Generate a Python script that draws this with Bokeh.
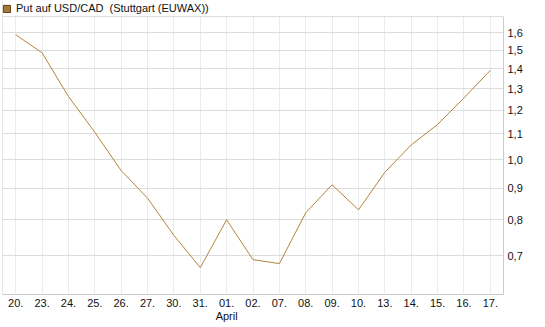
from bokeh.plotting import figure
from bokeh.models import (FixedTicker, CustomJSTickFormatter, LinearAxis, Range1d,
                          Span, Legend, LegendItem, BoxAnnotation)
from bokeh.embed import file_html
from bokeh.resources import INLINE

# ---- data ----
dates = ["20.", "23.", "24.", "25.", "26.", "27.", "30.", "31.", "01.", "02.",
         "07.", "08.", "09.", "10.", "13.", "14.", "15.", "16.", "17."]
values = [1.589, 1.486, 1.264, 1.107, 0.960, 0.867, 0.755, 0.670, 0.800, 0.690,
          0.680, 0.821, 0.911, 0.830, 0.954, 1.056, 1.139, 1.257, 1.392]
y_ticks = [0.7, 0.8, 0.9, 1.0, 1.1, 1.2, 1.3, 1.4, 1.5, 1.6]
month_label = "April"
month_index = 8
legend_text = "Put auf USD/CAD  (Stuttgart (EUWAX))"

LINE = "#B5833C"
FONT = "Liberation Sans"
Y_MIN, Y_PLOT_TOP, Y_CANVAS_TOP = 0.6064, 1.70, 1.804

idx = list(range(len(dates)))

p = figure(width=545, height=327, output_backend="svg", toolbar_location=None,
           y_axis_type="log", y_axis_location="right",
           x_range=Range1d(-0.5, len(dates) - 0.5),
           y_range=Range1d(Y_MIN, Y_CANVAS_TOP),
           min_border_left=2, min_border_right=42, min_border_top=0, min_border_bottom=33)
p.outline_line_color = None
p.background_fill_color = "white"
p.border_fill_color = "white"

p.line(idx, values, line_color=LINE, line_width=1)
# legend swatch renderer (placed outside the visible x range)
sq = p.quad(left=[-6], right=[-5], bottom=[1.0], top=[1.1], fill_color="#A87838",
            line_color="#5a3d18", line_width=1)

# x axis
xa = p.xaxis[0]
xa.ticker = FixedTicker(ticks=idx)
xa.major_label_overrides = {i: d for i, d in enumerate(dates)}
xa.major_tick_out = 0
xa.major_tick_in = 0
xa.minor_tick_out = 0
xa.minor_tick_in = 0
xa.axis_line_color = "#cccccc"
xa.major_label_text_font = FONT
xa.major_label_text_font_size = "11px"
xa.major_label_text_color = "#111111"
xa.major_label_standoff = 4

# month axis
ma = LinearAxis(ticker=FixedTicker(ticks=[month_index]),
                major_label_overrides={month_index: month_label})
ma.axis_line_color = None
ma.major_tick_out = 0
ma.major_tick_in = 0
ma.minor_tick_out = 0
ma.minor_tick_in = 0
ma.major_label_text_font = FONT
ma.major_label_text_font_size = "11px"
ma.major_label_text_color = "#111111"
ma.major_label_standoff = 0
p.add_layout(ma, "below")

# y axis
ya = p.yaxis[0]
ya.ticker = FixedTicker(ticks=y_ticks)
ya.formatter = CustomJSTickFormatter(code="return tick.toFixed(1).replace('.', ',');")
ya.bounds = (Y_MIN, Y_PLOT_TOP)
ya.major_tick_out = 0
ya.major_tick_in = 0
ya.minor_tick_out = 0
ya.minor_tick_in = 0
ya.axis_line_color = "#cccccc"
ya.major_label_text_font = FONT
ya.major_label_text_font_size = "11px"
ya.major_label_text_color = "#111111"
ya.major_label_standoff = 4

# grids
p.xgrid.grid_line_color = "#ececec"
p.xgrid.ticker = FixedTicker(ticks=idx)
p.ygrid.grid_line_color = "#dcdcdc"
p.ygrid.ticker = FixedTicker(ticks=y_ticks)

# left frame line
p.add_layout(Span(location=-0.5, dimension="height", line_color="#cccccc", line_width=1))

# white header strip above the plotting area
p.add_layout(BoxAnnotation(bottom=Y_PLOT_TOP, fill_color="white", fill_alpha=1,
                           line_color=None))
# top frame line
p.add_layout(Span(location=Y_PLOT_TOP, dimension="width", line_color="#dddddd", line_width=1))

# legend
leg = Legend(items=[LegendItem(label=legend_text, renderers=[sq])],
             location=(0, 279), orientation="horizontal",
             margin=0, padding=0, spacing=0,
             glyph_width=9, glyph_height=9, label_standoff=5,
             label_text_font=FONT, label_text_font_size="11px",
             label_text_color="#111111", label_height=14,
             border_line_color=None, background_fill_alpha=0)
p.add_layout(leg)

open("out.html", "w").write(file_html(p, INLINE))
